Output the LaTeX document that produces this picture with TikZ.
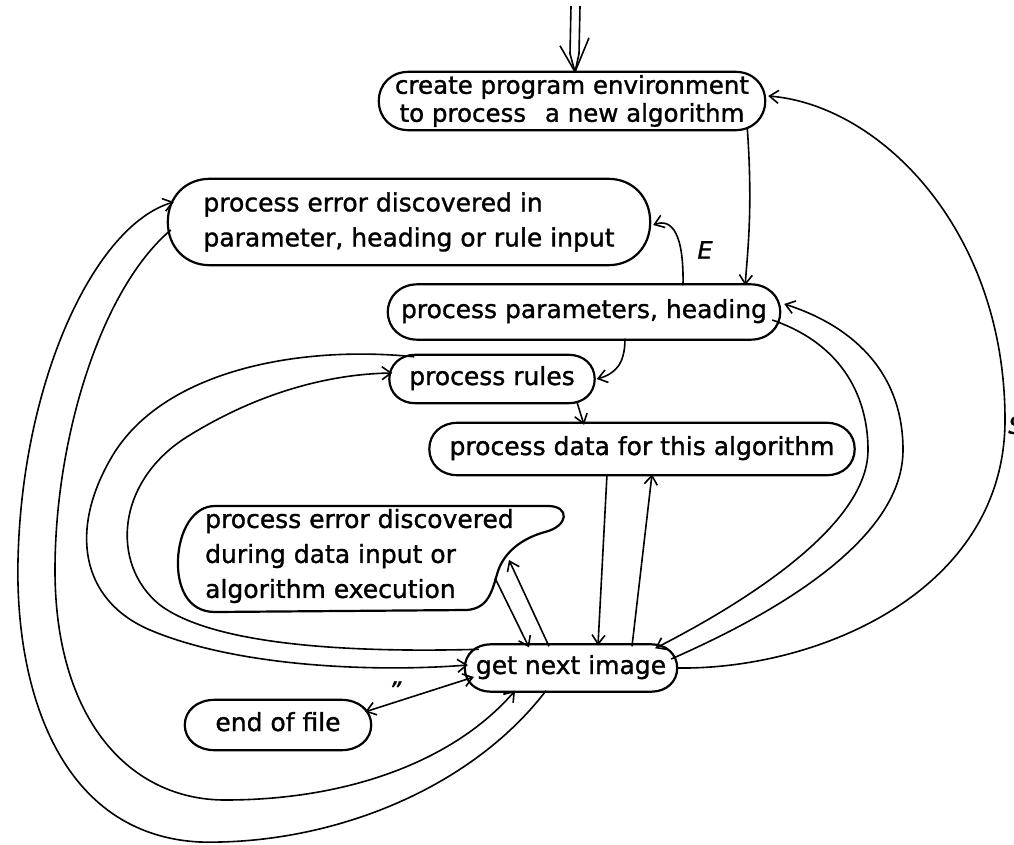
\documentclass[tikz,border=0pt]{standalone}
\usepackage{fontspec}
\newfontfamily\handfont[FakeBold=1.2]{DejaVu Sans}
\usetikzlibrary{arrows.meta,calc}

% Oval outline drawn around a (borderless) rectangular node;
% #2 is the length of the curved cap at each end
\newcommand{\blobline}[2]{%
  \draw[outline] (#1.west)
    .. controls ($(#1.west)!0.58!(#1.north west)$) and ($(#1.north west)+(0.42*#2,0)$)
    .. ($(#1.north west)+(#2,0)$)
    -- ($(#1.north east)+(-#2,0)$)
    .. controls ($(#1.north east)+(-0.42*#2,0)$) and ($(#1.east)!0.58!(#1.north east)$)
    .. (#1.east)
    .. controls ($(#1.east)!0.58!(#1.south east)$) and ($(#1.south east)+(-0.42*#2,0)$)
    .. ($(#1.south east)+(-#2,0)$)
    -- ($(#1.south west)+(#2,0)$)
    .. controls ($(#1.south west)+(0.42*#2,0)$) and ($(#1.west)!0.58!(#1.south west)$)
    .. (#1.west) -- cycle;}

\begin{document}
\begin{tikzpicture}[x=1pt,y=-1pt,
  every node/.style={inner sep=0pt},
  box/.style={rectangle, font=\handfont\fontsize{25}{35}\selectfont, align=center},
  oneline/.style={text height=18pt, text depth=6pt},
  outline/.style={line width=2.2pt, line join=round},
  link/.style={line width=1.6pt, -{Straight Barb[length=9pt,width=13pt]}},
  twoway/.style={line width=1.6pt, {Straight Barb[length=9pt,width=13pt]}-{Straight Barb[length=9pt,width=13pt]}},
  plain/.style={line width=1.6pt},
  tag/.style={font=\handfont\itshape\fontsize{24}{24}\selectfont}]

\useasboundingbox (0,0) rectangle (1014,845);
\fill[white] (0,0) rectangle (1014,845);

% ---- boxes ----
\node[box, minimum width=386pt, minimum height=58pt,
      font=\handfont\fontsize{24.5}{28}\selectfont] (create) at (572,101)
  {create program environment\\to process\hspace{0.45em} a new algorithm};
\node[box, align=left, minimum width=482pt, minimum height=86pt] (err1) at (409,222)
  {process error discovered in\\parameter, heading or rule input};
\node[box, oneline, minimum width=392pt, minimum height=55pt] (params) at (584,312)
  {process parameters, heading};
\node[box, oneline, minimum width=205pt, minimum height=48pt] (rules) at (492,379)
  {process rules};
\node[box, oneline, minimum width=425pt, minimum height=52pt] (data) at (642,449)
  {process data for this algorithm};
\node[box, align=left, anchor=west] (err2) at (205,556)
  {process error discovered\\during data input or\\algorithm execution};
\node[box, oneline, minimum width=212pt, minimum height=47pt] (next) at (571,668)
  {get next image};
\node[box, oneline, minimum width=186pt, minimum height=50pt] (eof) at (278,725)
  {end of file};

\blobline{create}{30}
\blobline{err1}{42}
\blobline{params}{30}
\blobline{rules}{26}
\blobline{data}{28}
\blobline{next}{26}
\blobline{eof}{30}

% irregular outline of the data-error box
\begin{scope}[shift={(err2.west)}]
  \draw[outline] (10,-50) -- (343,-50)
    .. controls (365,-50) and (364,-30) .. (340,-24)
    .. controls (318,-18) and (300,-5) .. (293,15)
    .. controls (287,35) and (284,52) .. (262,54)
    -- (10,56)
    .. controls (-18,56) and (-28,30) .. (-27,4)
    .. controls (-26,-25) and (-12,-50) .. (10,-50) -- cycle;
\end{scope}

% ---- entry arrow ----
\coordinate (entry) at (576,6);
\coordinate (tip) at ($(create.north)+(3,0)$);
\draw[plain, line join=round] ($(entry)+(-5,0)$) -- ($(tip)+(-5,-18)$) -- (tip);
\draw[plain, line join=round] ($(entry)+(4,0)$) -- ($(tip)+(4,-18)$) -- (tip);
\draw[plain, line join=round] ($(tip)+(-15,-26)$) -- (tip) -- ($(tip)+(14,-34)$);

% ---- connectors ----
\draw[link] ($(create.south east)+(-18,-3)$)
  .. controls ($(create.south east)+(-12,80)$) and ($(params.north east)+(-33,-30)$)
  .. ($(params.north east)+(-35,1)$);

\draw[link] ($(params.north)+(99,1)$)
  .. controls ($(params.north)+(100,-50)$) and ($(err1.east)+(22,-4)$)
  .. ($(err1.east)+(3,3)$);
\node[tag] (elabel) at (705,250) {E};

\draw[link] ($(params.south)+(41,-1)$)
  .. controls ($(params.south)+(41,25)$) and ($(rules.east)+(20,-5)$)
  .. ($(rules.east)+(2,0)$);

\draw[link] ($(rules.south)+(85,-1)$) -- ($(data.north)+(-58,2)$);

\draw[link] ($(data.south)+(-35,-1)$) -- ($(next.north)+(27,1)$);
\draw[link] ($(next.north)+(61,2)$) -- ($(data.south)+(10,-1)$);

\draw[link] ($(err2.west)+(290,22)$) -- ($(next.north)+(-42,3)$);
\draw[link] ($(next.north)+(-22,2)$) -- ($(err2.west)+(304,4)$);

% long loops on the left
\draw[link] ($(next.south)+(-25,-1)$)
  .. controls (470,790) and (330,845) .. (200,842)
  .. controls (60,835) and (15,690) .. (18,560)
  .. controls (22,380) and (95,225) .. ($(err1.west)+(6,-20)$);
\draw[link] ($(err1.west)+(3,8)$)
  .. controls (100,290) and (55,440) .. (55,570)
  .. controls (55,720) and (130,800) .. (225,800)
  .. controls (350,800) and (455,760) .. ($(next.south)+(-56,-1)$);
\draw[link] ($(rules.north west)+(25,2)$)
  .. controls (300,345) and (160,370) .. (110,460)
  .. controls (70,530) and (80,600) .. (150,630)
  .. controls (240,668) and (380,672) .. ($(next.west)+(3,-3)$);
\draw[link] ($(next.north west)+(14,5)$)
  .. controls (380,652) and (220,650) .. (160,605)
  .. controls (110,565) and (115,480) .. (190,435)
  .. controls (260,392) and (330,374) .. ($(rules.west)+(3,-6)$);

% loops on the right
\draw[link] ($(next.east)+(-6,-9)$)
  .. controls (760,620) and (903,545) .. (903,450)
  .. controls (903,370) and (850,325) .. ($(params.east)+(4,-8)$);
\draw[link] ($(params.east)+(-8,8)$)
  .. controls (845,345) and (868,400) .. (868,450)
  .. controls (868,530) and (730,610) .. ($(next.north east)+(-22,4)$);
\draw[link] (next.east)
  .. controls (820,670) and (1005,590) .. (1005,420)
  .. controls (1005,230) and (880,105) .. ($(create.east)+(3,-5)$);
\node[tag] (slabel) at (1016,425) {S};

% end of file
\draw[twoway] ($(next.west)+(9,9)$) -- ($(eof.north east)+(-6,12)$);
\node[tag] (quote) at (395,690) {”};

\end{tikzpicture}
\end{document}
